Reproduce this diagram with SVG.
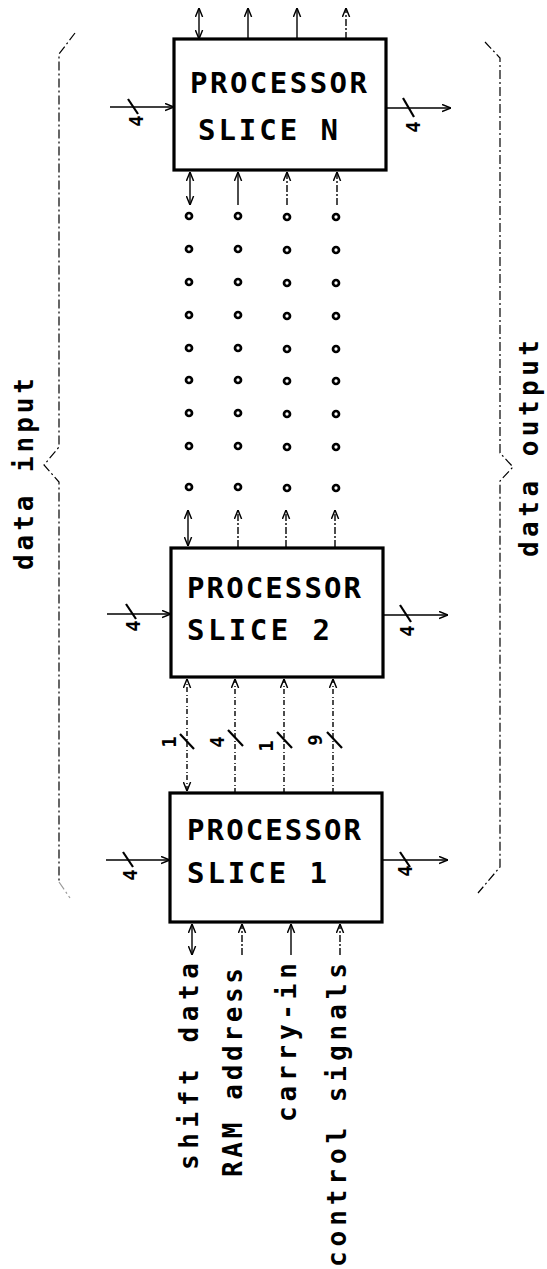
<svg xmlns="http://www.w3.org/2000/svg" width="547" height="1269" viewBox="0 0 547 1269">
<style>
.box{fill:#fff;stroke:#000;stroke-width:3.2}
.t{font-family:"DejaVu Sans Mono","Liberation Mono",monospace;font-weight:bold;fill:#000}
.big{font-size:29px}
.lab{font-size:26px}
.num{font-size:19px}
.w{stroke:#000;stroke-width:1.4;fill:none}
.dash{stroke-dasharray:7 2 2 2}
.dot{stroke-dasharray:5 2 1 3}
.br{stroke:#000;stroke-width:1.2;fill:none;stroke-dasharray:9 3 2 3}
.h{stroke:#000;stroke-width:2.2;fill:none}
.c{fill:none;stroke:#000;stroke-width:2.7}
</style>
<defs>
<marker id="ah" viewBox="0 0 10 10" refX="10" refY="5" markerWidth="9" markerHeight="9" markerUnits="userSpaceOnUse" orient="auto-start-reverse">
<path d="M0,1 L10,5 L0,9" fill="none" stroke="#000" stroke-width="1.6"/>
</marker>
</defs>
<rect width="547" height="1269" fill="#fff"/>

<g id="connectors">
<line class="w" x1="199" y1="39" x2="199" y2="8" marker-start="url(#ah)" marker-end="url(#ah)"/>
<line class="w" x1="248" y1="39" x2="248" y2="8" marker-end="url(#ah)"/>
<line class="w" x1="297" y1="39" x2="297" y2="8" marker-end="url(#ah)"/>
<line class="w dash" x1="346" y1="39" x2="346" y2="8" marker-end="url(#ah)"/>
<line class="w" x1="190" y1="205" x2="190" y2="172" marker-start="url(#ah)" marker-end="url(#ah)"/>
<line class="w" x1="238" y1="205" x2="238" y2="172" marker-end="url(#ah)"/>
<line class="w dash" x1="287" y1="205" x2="287" y2="172" marker-end="url(#ah)"/>
<line class="w dash" x1="337" y1="205" x2="337" y2="172" marker-end="url(#ah)"/>
<line class="w" x1="188" y1="546" x2="188" y2="510" marker-start="url(#ah)" marker-end="url(#ah)"/>
<line class="w dash" x1="238" y1="547" x2="238" y2="510" marker-end="url(#ah)"/>
<line class="w dash" x1="286" y1="547" x2="286" y2="510" marker-end="url(#ah)"/>
<line class="w dash" x1="335" y1="547" x2="335" y2="510" marker-end="url(#ah)"/>
<line class="w dot" x1="187" y1="791" x2="187" y2="679" marker-start="url(#ah)" marker-end="url(#ah)"/>
<line class="w dot" x1="235" y1="793" x2="235" y2="679" marker-end="url(#ah)"/>
<line class="w dot" x1="284" y1="793" x2="284" y2="679" marker-end="url(#ah)"/>
<line class="w dot" x1="333" y1="793" x2="333" y2="679" marker-end="url(#ah)"/>
<line class="h" x1="180" y1="734" x2="194" y2="749"/>
<line class="h" x1="228" y1="730" x2="243" y2="746"/>
<line class="h" x1="277" y1="732" x2="292" y2="748"/>
<line class="h" x1="327" y1="732" x2="342" y2="748"/>
<line class="w" x1="192" y1="955" x2="192" y2="924" marker-start="url(#ah)" marker-end="url(#ah)"/>
<line class="w dash" x1="242" y1="955" x2="242" y2="924" marker-end="url(#ah)"/>
<line class="w" x1="291" y1="955" x2="291" y2="924" marker-end="url(#ah)"/>
<line class="w dash" x1="340" y1="955" x2="340" y2="924" marker-end="url(#ah)"/>
<line class="w" x1="110" y1="107" x2="174" y2="107" marker-end="url(#ah)"/>
<line class="w" x1="386" y1="108" x2="451" y2="108" marker-end="url(#ah)"/>
<line class="w" x1="107" y1="614" x2="171" y2="614" marker-end="url(#ah)"/>
<line class="w" x1="383" y1="615" x2="448" y2="615" marker-end="url(#ah)"/>
<line class="w" x1="106" y1="860" x2="170" y2="860" marker-end="url(#ah)"/>
<line class="w" x1="382" y1="860" x2="448" y2="860" marker-end="url(#ah)"/>
<line class="h" x1="128" y1="99" x2="138" y2="114"/>
<line class="h" x1="403" y1="98" x2="414" y2="117"/>
<line class="h" x1="126" y1="604" x2="136" y2="619"/>
<line class="h" x1="400" y1="605" x2="411" y2="622"/>
<line class="h" x1="123" y1="852" x2="133" y2="867"/>
<line class="h" x1="400" y1="852" x2="410" y2="867"/>
</g>

<g id="bus-widths">
<text class="t num" text-anchor="middle" transform="translate(170,742) rotate(-90)" dy="6">1</text>
<text class="t num" text-anchor="middle" transform="translate(218,742) rotate(-90)" dy="6">4</text>
<text class="t num" text-anchor="middle" transform="translate(267,746) rotate(-90)" dy="6">1</text>
<text class="t num" text-anchor="middle" transform="translate(316,740) rotate(-90)" dy="6">9</text>
<text class="t num" text-anchor="middle" transform="translate(137,121) rotate(-90)" dy="6">4</text>
<text class="t num" text-anchor="middle" transform="translate(414,127) rotate(-90)" dy="6">4</text>
<text class="t num" text-anchor="middle" transform="translate(134,626) rotate(-90)" dy="6">4</text>
<text class="t num" text-anchor="middle" transform="translate(408,631) rotate(-90)" dy="6">4</text>
<text class="t num" text-anchor="middle" transform="translate(131,875) rotate(-90)" dy="6">4</text>
<text class="t num" text-anchor="middle" transform="translate(406,871) rotate(-90)" dy="6">4</text>
</g>

<g id="continuation-dots">
<g transform="translate(189,0)"><circle class="c" cy="216" r="3"/><circle class="c" cy="249" r="3"/><circle class="c" cy="282" r="3"/><circle class="c" cy="315" r="3"/><circle class="c" cy="348" r="3"/><circle class="c" cy="380" r="3"/><circle class="c" cy="413" r="3"/><circle class="c" cy="446" r="3"/><circle class="c" cy="487" r="3"/></g>
<g transform="translate(238,0)"><circle class="c" cy="216" r="3"/><circle class="c" cy="249" r="3"/><circle class="c" cy="282" r="3"/><circle class="c" cy="315" r="3"/><circle class="c" cy="348" r="3"/><circle class="c" cy="380" r="3"/><circle class="c" cy="413" r="3"/><circle class="c" cy="446" r="3"/><circle class="c" cy="487" r="3"/></g>
<g transform="translate(287,0)"><circle class="c" cy="217" r="3"/><circle class="c" cy="250" r="3"/><circle class="c" cy="283" r="3"/><circle class="c" cy="316" r="3"/><circle class="c" cy="349" r="3"/><circle class="c" cy="381" r="3"/><circle class="c" cy="414" r="3"/><circle class="c" cy="447" r="3"/><circle class="c" cy="488" r="3"/></g>
<g transform="translate(336,0)"><circle class="c" cy="217" r="3"/><circle class="c" cy="250" r="3"/><circle class="c" cy="283" r="3"/><circle class="c" cy="316" r="3"/><circle class="c" cy="349" r="3"/><circle class="c" cy="381" r="3"/><circle class="c" cy="414" r="3"/><circle class="c" cy="447" r="3"/><circle class="c" cy="488" r="3"/></g>
</g>

<g id="slice-n">
<rect class="box" x="174" y="39" width="212" height="131"/>
<text class="t big" x="190" y="93" textLength="177" lengthAdjust="spacing">PROCESSOR</text>
<text class="t big" x="198" y="140" textLength="140" lengthAdjust="spacing">SLICE N</text>
</g>

<g id="slice-2">
<rect class="box" x="171" y="548" width="212" height="129"/>
<text class="t big" x="187" y="598" textLength="174" lengthAdjust="spacing">PROCESSOR</text>
<text class="t big" x="187" y="640" textLength="143" lengthAdjust="spacing">SLICE 2</text>
</g>

<g id="slice-1">
<rect class="box" x="170" y="793" width="212" height="129"/>
<text class="t big" x="187" y="840" textLength="174" lengthAdjust="spacing">PROCESSOR</text>
<text class="t big" x="187" y="883" textLength="140" lengthAdjust="spacing">SLICE 1</text>
</g>

<g id="data-input">
<path class="br" d="M75,33 L59,54 L59,447 L44,465 L59,482 L59,882"/>
<path class="br" d="M59,882 L70,898" stroke-opacity="0.4"/>
<text class="t lab" transform="translate(33,570) rotate(-90)" textLength="192" lengthAdjust="spacing">data input</text>
</g>

<g id="data-output">
<path class="br" d="M485,42 L500,58 L500,453 L513,467 L500,481 L500,867 L478,893"/>
<text class="t lab" transform="translate(538,557) rotate(-90)" textLength="217" lengthAdjust="spacing">data output</text>
</g>

<g id="signal-labels">
<text class="t lab" transform="translate(198,1170) rotate(-90)" textLength="207" lengthAdjust="spacing">shift data</text>
<text class="t lab" transform="translate(242,1177) rotate(-90)" textLength="209" lengthAdjust="spacing">RAM address</text>
<text class="t lab" transform="translate(296,1122) rotate(-90)" textLength="159" lengthAdjust="spacing">carry-in</text>
<text class="t lab" transform="translate(346,1267) rotate(-90)" textLength="304" lengthAdjust="spacing">control signals</text>
</g>
</svg>
